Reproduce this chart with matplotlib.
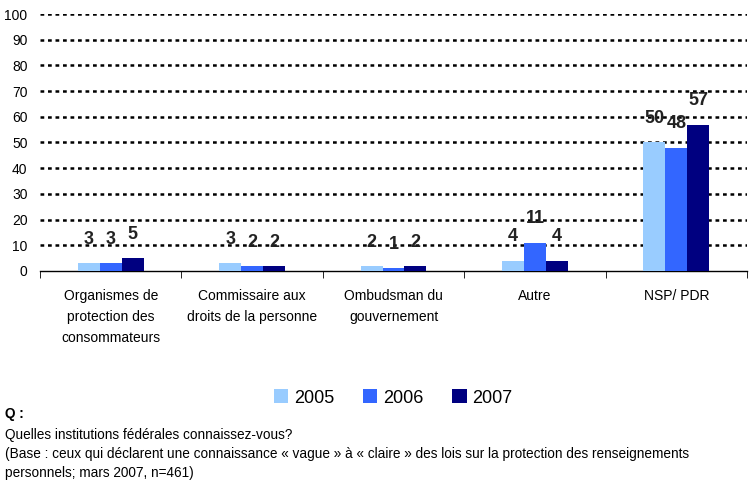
import matplotlib.pyplot as plt
import numpy as np

# === DATA ===
categories = ["Organismes de\nprotection des\nconsommateurs",
              "Commissaire aux\ndroits de la personne",
              "Ombudsman du\ngouvernement",
              "Autre",
              "NSP/ PDR"]
years = ["2005", "2006", "2007"]
vals_2005 = [3, 3, 2, 4, 50]
vals_2006 = [3, 2, 1, 11, 48]
vals_2007 = [5, 2, 2, 4, 57]
colors = ["#99CCFF", "#3366FF", "#000080"]

plt.rcParams['font.family'] = ['Liberation Sans', 'DejaVu Sans']

fig = plt.figure(figsize=(7.53, 4.86), dpi=100)
ax = fig.add_axes([40 / 753, 1 - 271 / 486, 707 / 753, 257 / 486])

x = np.arange(len(categories))
w = 0.155
series = [vals_2005, vals_2006, vals_2007]
for i, (vals, col, yr) in enumerate(zip(series, colors, years)):
    pos = x + (i - 1) * w
    ax.bar(pos, vals, width=w, color=col, label=yr, zorder=3)
    for px, v in zip(pos, vals):
        ax.annotate(str(v), (px, v), xytext=(0, 11), textcoords="offset points",
                    ha="center", va="bottom", fontsize=13, fontweight="bold",
                    color="#222222", zorder=4)

ax.set_xlim(-0.5, len(categories) - 0.5)
ax.set_ylim(0, 100)
ax.set_yticks(range(0, 101, 10))
for yv in range(10, 101, 10):
    ax.axhline(yv, color="black", lw=1.8, ls=(0, (1.5, 1.5)), zorder=1)

ax.set_xticks(x)
ax.set_xticklabels(categories, fontsize=10, linespacing=1.65)
ax.set_xticks(np.arange(-0.5, len(categories)), minor=True)
ax.tick_params(axis="x", which="major", length=0, pad=13)
ax.tick_params(axis="x", which="minor", length=5, direction="out", color="black")
ax.tick_params(axis="y", length=0, pad=9, labelsize=10)

for s in ["top", "right", "left"]:
    ax.spines[s].set_visible(False)
ax.spines["bottom"].set_color("black")
ax.spines["bottom"].set_linewidth(1.0)

fig.legend(loc="center", bbox_to_anchor=(393 / 753, 1 - 398 / 486), ncol=3,
           frameon=False, fontsize=13, handlelength=0.8, handleheight=0.8,
           handletextpad=0.3, columnspacing=1.6)

fs = 9.8
fig.text(5 / 753, 1 - 414 / 486, "Q :", fontsize=fs, fontweight="bold", va="center")
fig.text(5 / 753, 1 - 435 / 486, "Quelles institutions fédérales connaissez-vous?",
         fontsize=fs, va="center")
fig.text(5 / 753, 1 - 454 / 486,
         "(Base : ceux qui déclarent une connaissance « vague » à « claire » des lois sur la protection des renseignements",
         fontsize=fs, va="center")
fig.text(5 / 753, 1 - 473 / 486, "personnels; mars 2007, n=461)", fontsize=fs, va="center")

fig.savefig("out.png", dpi=100)
